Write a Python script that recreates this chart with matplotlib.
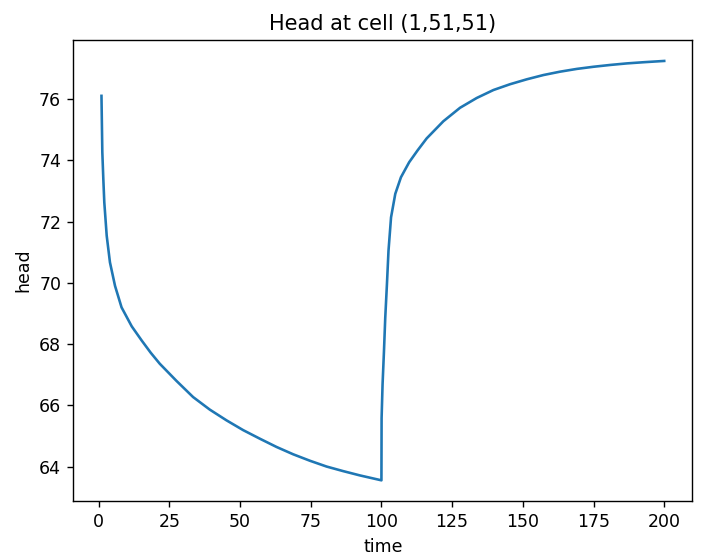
import matplotlib
matplotlib.use("Agg")
import matplotlib.pyplot as plt

# simulated head at cell (1,51,51): pumping period then recovery
times = [1.0, 1.3, 1.65, 2.0, 2.85, 4.0, 5.8, 8.1, 11.7, 15.2, 18.4, 21.6,
         27.5, 33.4, 39.3, 45.2, 51.1, 57.0, 62.9, 68.8, 74.7, 80.6, 86.5,
         92.4, 96.2, 100.0,
         100.06, 100.4, 100.9, 101.35, 101.95, 102.5, 103.4, 104.9, 106.9,
         109.8, 112.8, 116.0, 121.9, 127.8, 133.7, 139.6, 145.5, 151.4,
         157.3, 163.2, 169.1, 175.0, 181.0, 186.8, 193.0, 200.0]
heads = [76.11, 74.27, 73.40, 72.63, 71.54, 70.67, 69.90, 69.20, 68.58,
         68.12, 67.72, 67.36, 66.80, 66.27, 65.86, 65.51, 65.19, 64.91,
         64.64, 64.40, 64.19, 64.00, 63.85, 63.71, 63.63, 63.55,
         65.58, 66.68, 67.77, 68.86, 69.96, 71.05, 72.14, 72.91, 73.45,
         73.94, 74.33, 74.72, 75.28, 75.72, 76.04, 76.30, 76.49, 76.65,
         76.79, 76.90, 76.99, 77.06, 77.12, 77.17, 77.21, 77.25]

s = 1.25
plt.rcParams.update({
    "font.size": 10 * s,
    "axes.linewidth": 0.8 * s,
    "xtick.major.size": 3.5 * s,
    "ytick.major.size": 3.5 * s,
    "xtick.major.width": 0.8 * s,
    "ytick.major.width": 0.8 * s,
    "xtick.major.pad": 3.5 * s,
    "ytick.major.pad": 3.5 * s,
    "axes.titlepad": 6 * s,
    "axes.labelpad": 4 * s,
})

fig = plt.figure(figsize=(7.12, 5.56), dpi=100)
ax = fig.add_axes([0.103, 0.0984, 0.8694, 0.8297])
ax.plot(times, heads, color="#1f77b4", linewidth=1.5 * s)
ax.set_title("Head at cell (1,51,51)", fontsize=12 * s)
ax.set_xlabel("time")
ax.set_ylabel("head")
ax.set_xticks([0, 25, 50, 75, 100, 125, 150, 175, 200])
ax.set_yticks([64, 66, 68, 70, 72, 74, 76])

fig.savefig("out.png", dpi=100)
